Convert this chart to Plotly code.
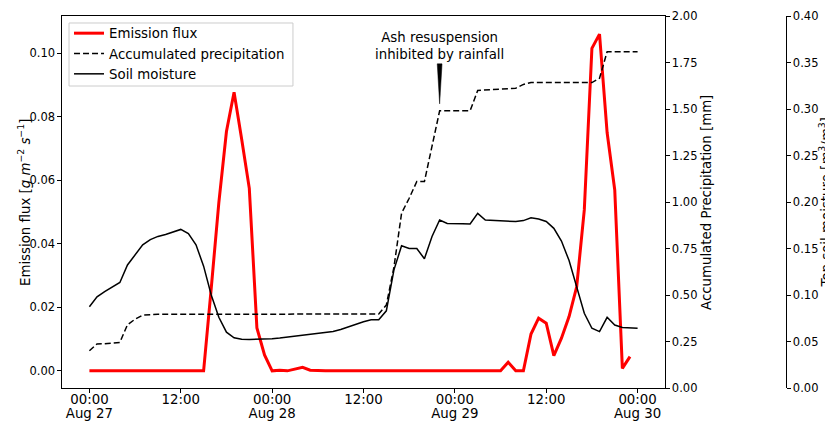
import pandas as pd
import plotly.graph_objects as go

# ---------------- data (hourly, starting Aug 27 00:00) ----------------
start_time = "2019-08-27 00:00"

emission_flux = [
    0, 0, 0, 0, 0, 0, 0, 0, 0, 0, 0, 0, 0, 0, 0, 0,
    0.026, 0.053, 0.0754, 0.0878, 0.073, 0.0575, 0.0135, 0.005, 0, 0.0002,
    0, 0.0005, 0.0011, 0.0002,
    0, 0, 0, 0, 0, 0, 0, 0, 0, 0, 0, 0, 0, 0, 0, 0, 0, 0, 0, 0, 0, 0, 0, 0, 0,
    0.0027, 0, 0, 0.0116, 0.0166, 0.015, 0.0048, 0.0103, 0.0171, 0.0265,
    0.0507, 0.1016, 0.1061, 0.075, 0.057, 0.0008, 0.0045,
]

accumulated_precip = [
    0.200, 0.237, 0.238, 0.240, 0.245, 0.340, 0.370, 0.392, 0.396,
    0.396, 0.396, 0.396, 0.396, 0.396, 0.396, 0.396, 0.396, 0.396, 0.396,
    0.396, 0.396, 0.396, 0.396, 0.396, 0.396, 0.396, 0.396, 0.396, 0.396,
    0.396, 0.396, 0.396, 0.396, 0.396, 0.396, 0.396, 0.396, 0.396,
    0.398, 0.446, 0.650, 0.940, 1.020, 1.110, 1.110, 1.300, 1.490, 1.490,
    1.490, 1.490, 1.490, 1.600, 1.603, 1.605, 1.607, 1.608, 1.612, 1.632,
    1.642, 1.642, 1.642, 1.642, 1.642, 1.642, 1.642, 1.642, 1.642,
    1.665, 1.808, 1.808, 1.808, 1.808, 1.808,
]

soil_moisture = [
    0.0874, 0.098, 0.1036, 0.109, 0.1135, 0.1323, 0.143, 0.154, 0.1595, 0.163,
    0.165, 0.168, 0.1705, 0.166, 0.154, 0.131, 0.100, 0.076, 0.060, 0.054,
    0.0524, 0.0522, 0.0522, 0.0525, 0.053, 0.0537, 0.0547, 0.0555, 0.0565, 0.0575,
    0.0585, 0.0596, 0.0608, 0.063, 0.066, 0.0688, 0.0713, 0.0733, 0.0735, 0.083,
    0.127, 0.153, 0.150, 0.150, 0.139, 0.163, 0.1806, 0.177, 0.1765, 0.1765,
    0.1763, 0.1878, 0.1806, 0.180, 0.180, 0.179, 0.179, 0.180, 0.183, 0.1817,
    0.179, 0.1717, 0.158, 0.137, 0.109, 0.0803, 0.0642, 0.0606, 0.076, 0.0677,
    0.065, 0.0642, 0.0642,
]

time_labels = ["00:00", "12:00", "00:00", "12:00", "00:00", "12:00", "00:00"]
date_labels = ["Aug 27", "Aug 28", "Aug 29", "Aug 30"]
flux_ticks = [0.00, 0.02, 0.04, 0.06, 0.08, 0.10]
precip_ticks = [0.00, 0.25, 0.50, 0.75, 1.00, 1.25, 1.50, 1.75, 2.00]
soil_ticks = [0.00, 0.05, 0.10, 0.15, 0.20, 0.25, 0.30, 0.35, 0.40]

flux_title = "Emission flux [<i>g m</i><sup>−2</sup> <i>s</i><sup>−1</sup>]"
precip_title = "Accumulated Precipitation [mm]"
soil_title = "Top soil moisture [<i>m</i><sup>3</sup>/<i>m</i><sup>3</sup>]"
annotation_text = "Ash resuspension<br>inhibited by rainfall"
annotation_index = 46

# ---------------- build ----------------
t0 = pd.Timestamp(start_time)
time_flux = pd.date_range(t0, periods=len(emission_flux), freq="h")
time_hourly = pd.date_range(t0, periods=len(accumulated_precip), freq="h")
tick_times = pd.date_range(t0, periods=len(time_labels), freq="12h")
day_times = pd.date_range(t0, periods=len(date_labels), freq="24h")
pad = pd.Timedelta(hours=3.6)
x_range = [time_hourly[0] - pad, time_hourly[-1] + pad]

FONT = "DejaVu Sans"
FS = 13.33      # legend / titles / x tick labels
FS_Y = 11.5     # y tick labels
fig = go.Figure()

fig.add_trace(go.Scatter(x=time_flux, y=emission_flux, mode="lines",
                         name="Emission flux", yaxis="y",
                         line=dict(color="#ff0000", width=3)))
fig.add_trace(go.Scatter(x=time_hourly, y=accumulated_precip, mode="lines",
                         name="Accumulated precipitation", yaxis="y2",
                         line=dict(color="black", width=1.5, dash="6px,3px")))
fig.add_trace(go.Scatter(x=time_hourly, y=soil_moisture, mode="lines",
                         name="Soil moisture", yaxis="y3",
                         line=dict(color="black", width=1.5)))

axis_common = dict(showgrid=False, zeroline=False, showline=True,
                   linecolor="black", linewidth=1.1, ticks="outside",
                   ticklen=3.5, tickwidth=1, tickcolor="black",
                   automargin=False)
ytick_font = dict(family=FONT, size=FS_Y, color="black")
xtick_font = dict(family=FONT, size=FS, color="black")
x_domain = [0, 603 / 724]

fig.update_layout(
    width=833, height=421, autosize=False,
    margin=dict(l=54, r=55, t=8, b=41),
    paper_bgcolor="white", plot_bgcolor="white",
    font=dict(family=FONT, size=FS, color="black"),
    xaxis=dict(domain=x_domain, range=x_range, type="date",
               tickvals=list(tick_times), ticktext=time_labels,
               tickfont=xtick_font, ticklabelstandoff=-5,
               mirror=True, **axis_common),
    xaxis2=dict(domain=x_domain, range=x_range, type="date",
                overlaying="x", anchor="y", side="bottom",
                tickvals=list(day_times), ticktext=date_labels,
                tickfont=xtick_font, ticks="", showline=False,
                showgrid=False, zeroline=False, automargin=False,
                ticklabelstandoff=16),
    yaxis=dict(range=[-0.0054, 0.1118], tickvals=flux_ticks, tickformat=".2f",
               mirror=True, tickfont=ytick_font, **axis_common),
    yaxis2=dict(range=[0, 2], tickvals=precip_ticks, tickformat=".2f",
                overlaying="y", side="right", anchor="x",
                tickfont=ytick_font, **axis_common),
    yaxis3=dict(range=[0, 0.4], tickvals=soil_ticks, tickformat=".2f",
                overlaying="y", side="right", anchor="free", position=1.0,
                tickfont=ytick_font, **axis_common),
    legend=dict(x=0.0097, y=0.9946, xanchor="left", yanchor="top",
                bgcolor="rgba(0,0,0,0)", borderwidth=0,
                font=dict(family=FONT, size=FS, color="black"),
                tracegroupgap=0),
    showlegend=True,
)

# invisible trace so the date-label axis is rendered
fig.add_trace(go.Scatter(x=[day_times[0]], y=[None], xaxis="x2", yaxis="y",
                         mode="lines", showlegend=False, hoverinfo="skip"))

# legend frame
fig.add_shape(type="rect", xref="paper", yref="paper",
              x0=0.0097, x1=0.319, y0=0.8118, y1=0.9812, layer="above",
              fillcolor="rgba(255,255,255,0.8)",
              line=dict(color="#cccccc", width=1))

# axis titles
for xp, txt in [(-0.0525, flux_title), (0.8895, precip_title), (1.0545, soil_title)]:
    fig.add_annotation(x=xp, y=0.5, xref="paper", yref="paper", text=txt,
                       textangle=-90, showarrow=False, xanchor="center",
                       yanchor="middle",
                       font=dict(family=FONT, size=FS, color="black"))

# annotation text + wedge arrow pointing at the precipitation curve
ax_t = time_hourly[annotation_index]
ay_v = accumulated_precip[annotation_index]
fig.add_annotation(x=ax_t, y=ay_v, xref="x", yref="y2", text=annotation_text,
                   showarrow=False, yanchor="bottom", yshift=47,
                   font=dict(family=FONT, size=FS, color="black"))
fig.add_shape(type="path", xref="x", yref="y2",
              xsizemode="pixel", ysizemode="pixel",
              xanchor=ax_t, yanchor=ay_v,
              path="M -2.4 47 L 2.4 47 L 0 7 Z",
              fillcolor="black", line=dict(color="black", width=0.5))

fig.write_html("out.html")
